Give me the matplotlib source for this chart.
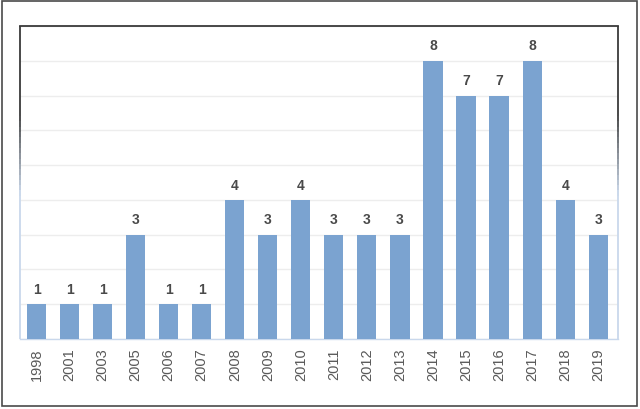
import matplotlib
matplotlib.use("Agg")
import matplotlib.pyplot as plt
import numpy as np
from matplotlib.patches import Rectangle
from matplotlib.collections import LineCollection
from matplotlib.colors import to_rgb

# Data
years = ["1998", "2001", "2003", "2005", "2006", "2007", "2008", "2009", "2010",
         "2011", "2012", "2013", "2014", "2015", "2016", "2017", "2018", "2019"]
counts = [1, 1, 1, 3, 1, 1, 4, 3, 4, 3, 3, 3, 8, 7, 7, 8, 4, 3]

# Style
bar_color = "#7BA3D0"
label_color = "#4A4A4A"
tick_color = "#595959"
grid_color = "#EDEDED"
frame_dark = "#3A3A3A"
frame_light = "#C9D8EC"

plt.rcParams["font.family"] = ["Liberation Sans", "DejaVu Sans"]

fig = plt.figure(figsize=(6.4, 4.1), dpi=100)
ax = fig.add_axes([20 / 640, 70 / 410, 598 / 640, 313 / 410])

x = np.arange(len(years))
bars = ax.bar(x, counts, width=0.58, color=bar_color, zorder=3)
for rect, v in zip(bars, counts):
    ax.annotate(str(v), (rect.get_x() + rect.get_width() / 2, v),
                xytext=(0, 6), textcoords="offset points",
                ha="center", va="bottom", fontsize=10,
                fontweight="bold", color=label_color)

ax.set_xlim(-0.5, len(years) - 0.4)
ax.set_ylim(0, 9)
ax.set_yticks(range(0, 10))
ax.yaxis.grid(True, color=grid_color, linewidth=1, zorder=0)
ax.tick_params(axis="y", left=False, labelleft=False)
ax.set_xticks(x)
ax.set_xticklabels(years, rotation=90, fontsize=10.5, color=tick_color)
ax.tick_params(axis="x", length=0, pad=6)

for s in ["left", "right"]:
    ax.spines[s].set_visible(False)
ax.spines["top"].set_color(frame_dark)
ax.spines["top"].set_linewidth(1.3)
ax.spines["bottom"].set_color(frame_light)
ax.spines["bottom"].set_linewidth(1.0)

# side frame lines fading from dark at top to light blue at bottom
ys = np.linspace(1, 0, 60)
c0, c1 = np.array(to_rgb(frame_dark)), np.array(to_rgb(frame_light))
for xs in (0, 1):
    segs = [[(xs, ys[i]), (xs, ys[i + 1])] for i in range(len(ys) - 1)]
    t = np.clip((0.72 - ys[:-1]) / 0.25, 0, 1)
    cols = [tuple(c0 + (c1 - c0) * ti) for ti in t]
    lc = LineCollection(segs, colors=cols, linewidths=1.3,
                        transform=ax.transAxes, clip_on=False, zorder=4)
    ax.add_collection(lc)

# outer border
fig.patches.append(Rectangle((2 / 640, 3 / 410), 635 / 640, 405 / 410,
                             transform=fig.transFigure, fill=False,
                             edgecolor="#4A4A4A", linewidth=1.2))

fig.savefig("out.png", dpi=100)
